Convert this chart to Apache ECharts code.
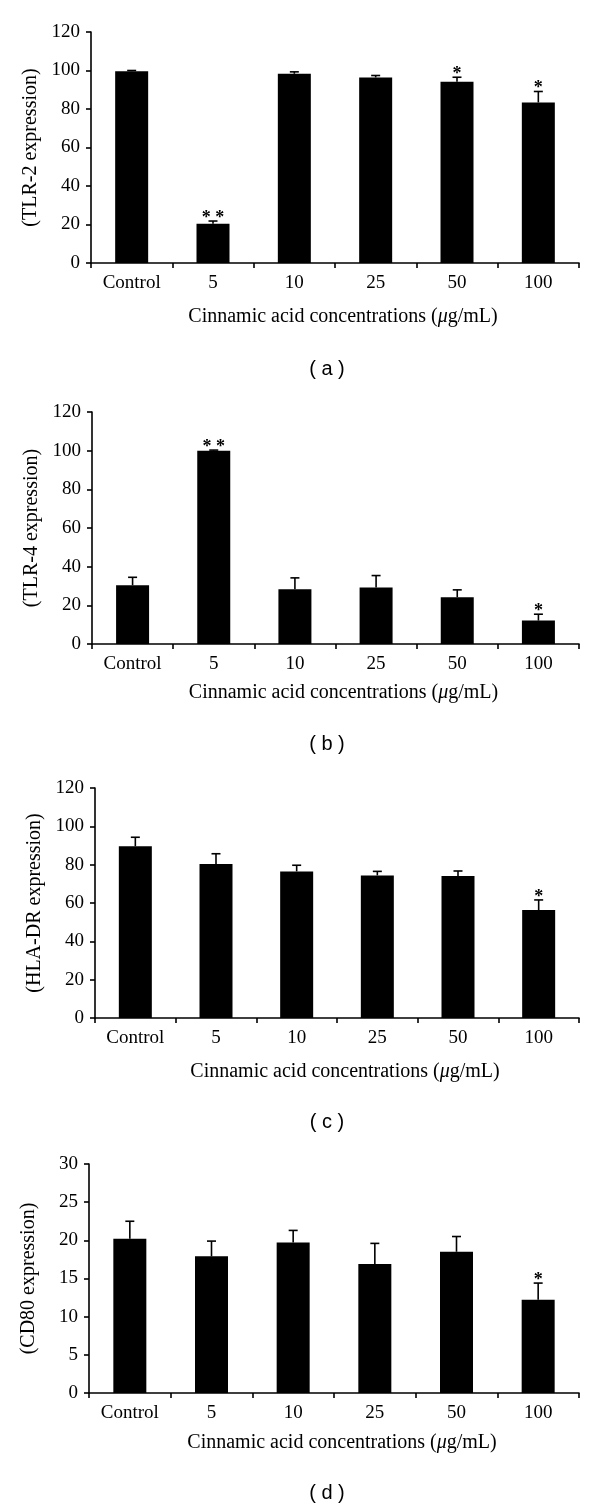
<!DOCTYPE html>
<html>
<head>
<meta charset="utf-8">
<script src="https://cdn.jsdelivr.net/npm/echarts@6/dist/echarts.min.js"></script>
<style>
  html, body { margin: 0; padding: 0; background: #fff; }
  #main { width: 600px; height: 1507px; }
</style>
</head>
<body>
<div id="main"></div>
<script>
// categories shared by all four panels
const categories = ['Control', '5', '10', '25', '50', '100'];

// (a) TLR-2
const tlr2 = [99.6, 20.4, 98.3, 96.4, 94.1, 83.4];
const tlr2Err = [0.4, 1.4, 1.0, 1.0, 2.4, 5.7];
const tlr2Sig = ['', '* *', '', '', '*', '*'];

// (b) TLR-4
const tlr4 = [30.4, 100, 28.3, 29.2, 24.2, 12.1];
const tlr4Err = [4.1, 0.3, 5.9, 6.2, 3.8, 3.3];
const tlr4Sig = ['', '* *', '', '', '', '*'];

// (c) HLA-DR
const hla = [89.6, 80.3, 76.5, 74.4, 74.1, 56.3];
const hlaErr = [4.7, 5.4, 3.2, 2.1, 2.6, 5.3];
const hlaSig = ['', '', '', '', '', '*'];

// (d) CD80
const cd80 = [20.2, 17.9, 19.7, 16.9, 18.5, 12.2];
const cd80Err = [2.3, 2.0, 1.6, 2.7, 2.0, 2.2];
const cd80Sig = ['', '', '', '', '', '*'];

const yMax = [120, 120, 120, 30];
const yStep = [20, 20, 20, 5];
const yNames = ['(TLR-2 expression)', '(TLR-4 expression)', '(HLA-DR expression)', '(CD80 expression)'];
const letters = ['( a )', '( b )', '( c )', '( d )'];

const SERIF = 'Liberation Serif';
const chart = echarts.init(document.getElementById('main'));

// panel geometry (left, top, plot height, x-title gap, letter y)
const panels = [
  { left: 91, top: 32, h: 231, gap: 44, ly: 366 },
  { left: 92, top: 412, h: 232, gap: 39, ly: 741 },
  { left: 95, top: 788, h: 230, gap: 44, ly: 1119 },
  { left: 89, top: 1164, h: 229, gap: 40, ly: 1490 }
];

function errSeries(idx, vals, errs, sig) {
  return {
    type: 'custom',
    xAxisIndex: idx,
    yAxisIndex: idx,
    z: 3,
    encode: { x: 0, y: 1 },
    data: vals.map((v, i) => [i, v, errs[i]]),
    renderItem: function (params, api) {
      const i = api.value(0), v = api.value(1), e = api.value(2);
      const base = api.coord([i, v]);
      const top = api.coord([i, v + e]);
      const s = sig[params.dataIndex];
      const kids = [
        { type: 'line', shape: { x1: base[0], y1: base[1], x2: top[0], y2: top[1] },
          style: { stroke: '#000', lineWidth: 1.6 } },
        { type: 'line', shape: { x1: top[0] - 4.5, y1: top[1], x2: top[0] + 4.5, y2: top[1] },
          style: { stroke: '#000', lineWidth: 1.6 } }
      ];
      if (s) {
        kids.push({ type: 'text', style: { text: s, x: top[0], y: top[1] + 6, align: 'center',
          verticalAlign: 'bottom', font: 'bold 18px "Liberation Serif"', fill: '#000' } });
      }
      return { type: 'group', children: kids };
    }
  };
}

const allVals = [tlr2, tlr4, hla, cd80];
const allErrs = [tlr2Err, tlr4Err, hlaErr, cd80Err];
const allSig = [tlr2Sig, tlr4Sig, hlaSig, cd80Sig];

const option = {
  animation: false,
  backgroundColor: '#fff',
  title: panels.map((p, k) => ({
    text: letters[k], left: 322, top: p.ly - 12, textAlign: 'center',
    textStyle: { fontFamily: 'Liberation Sans', fontSize: 20, fontWeight: 'normal', color: '#000' }
  })),
  grid: panels.map(p => ({ left: p.left, right: 21, top: p.top, height: p.h })),
  xAxis: panels.map((p, k) => ({
    type: 'category', gridIndex: k, data: categories,
    axisLine: { lineStyle: { color: '#000', width: 1.6 } },
    axisTick: { show: true, length: 5, lineStyle: { color: '#000', width: 1.6 } },
    axisLabel: { color: '#000', fontFamily: SERIF, fontSize: 19, margin: 11 },
    name: 'Cinnamic acid concentrations ({i|μ}g/mL)',
    nameLocation: 'middle', nameGap: p.gap,
    nameTextStyle: { color: '#000', fontFamily: SERIF, fontSize: 20, padding: [0, 0, 0, 16],
      rich: { i: { fontStyle: 'italic', fontFamily: SERIF, fontSize: 20, color: '#000' } } }
  })),
  yAxis: panels.map((p, k) => ({
    type: 'value', gridIndex: k, min: 0, max: yMax[k], interval: yStep[k],
    axisLine: { show: true, lineStyle: { color: '#000', width: 1.6 } },
    axisTick: { show: true, length: 5, lineStyle: { color: '#000', width: 1.6 } },
    splitLine: { show: false },
    axisLabel: { color: '#000', fontFamily: SERIF, fontSize: 19, margin: 11 },
    name: yNames[k], nameLocation: 'middle', nameGap: 50,
    nameTextStyle: { color: '#000', fontFamily: SERIF, fontSize: 20 }
  })),
  series: []
};

allVals.forEach((vals, k) => {
  option.series.push({
    type: 'bar', xAxisIndex: k, yAxisIndex: k, data: vals, barWidth: 33,
    itemStyle: { color: '#000' }
  });
  option.series.push(errSeries(k, vals, allErrs[k], allSig[k]));
});

chart.setOption(option);
</script>
</body>
</html>
